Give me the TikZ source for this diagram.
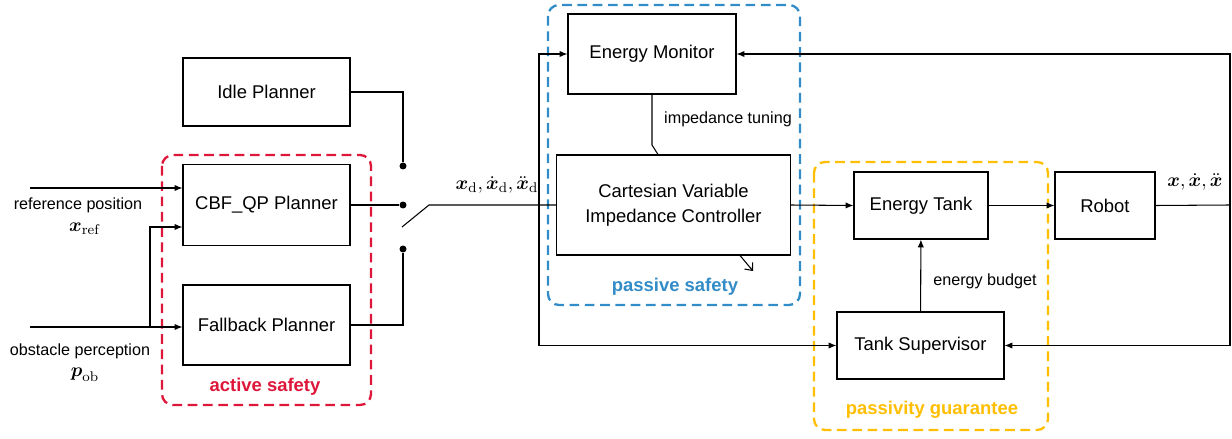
\documentclass[tikz,border=0pt]{standalone}
\usepackage{amsmath}
\usepackage{amssymb}
\usepackage[no-math]{fontspec}
\setmainfont{Liberation Sans}
\usepackage{tikz}
\usetikzlibrary{arrows.meta, positioning, calc}
\definecolor{activered}{RGB}{222,22,58}
\definecolor{passiveblue}{RGB}{50,140,200}
\definecolor{tankyellow}{RGB}{255,190,0}

\tikzset{
  block/.style={draw, line width=0.6pt, font=\fontsize{10.5}{12.5}\selectfont, align=center, inner sep=2pt},
  groupbox/.style={draw, line width=1.3pt, rounded corners=0.22cm, dash pattern=on 5.5pt off 3.2pt},
  grouplbl/.style={font=\fontsize{10.5}{12.5}\selectfont\bfseries},
  sig/.style={font=\fontsize{9.2}{11}\selectfont},
  state/.style={font=\fontsize{11}{13}\selectfont, inner sep=1pt},
  wire/.style={line width=0.6pt},
  dot/.style={circle, fill, inner sep=0pt, minimum size=0.14cm}
}

\begin{document}
\begin{tikzpicture}[x=0.02cm, y=-0.02cm, >={Latex[length=4.5pt,width=3.6pt]}]
\useasboundingbox (0,0) rectangle (1232,439);

% safety groups
\draw[groupbox, activered] (162,155) rectangle (371,405);
\draw[groupbox, passiveblue] (548,5) rectangle (800,305);
\draw[groupbox, tankyellow] (814,162) rectangle (1048,430);
\node[grouplbl, text=activered] (activelbl) at (265,387) {active safety};
\node[grouplbl, text=passiveblue] (passivelbl) at (675,287) {passive safety};
\node[grouplbl, text=tankyellow] (tanklbl) at (932,410) {passivity guarantee};

% planners
\node[block, minimum width=3.34cm, minimum height=1.36cm] (idle) at (266.5,92) {Idle Planner};
\node[block, minimum width=3.34cm, minimum height=1.62cm] (cbf) at (266.5,205) {CBF\_QP Planner};
\node[block, minimum width=3.34cm, minimum height=1.6cm] (fallback) at (266.5,325) {Fallback Planner};

% controller side
\node[block, minimum width=3.36cm, minimum height=1.6cm] (monitor) at (652,54) {Energy Monitor};
\node[block, minimum width=4.68cm, minimum height=2cm] (controller) at (673.5,205) {Cartesian Variable\\[2pt]Impedance Controller};
\node[block, minimum width=2.68cm, minimum height=1.34cm] (tank) at (921,205.5) {Energy Tank};
\node[block, minimum width=2cm, minimum height=1.34cm] (robot) at (1105,205.5) {Robot};
\node[block, minimum width=3.34cm, minimum height=1.34cm] (supervisor) at (920.5,345.5) {Tank Supervisor};

% switch
\node[dot] (s1) at (403,166) {};
\node[dot] (s2) at (403,205) {};
\node[dot] (s3) at (403,249) {};
\coordinate (lever) at (402,227);
\coordinate (sw) at (429,205);
\coordinate (split) at (539,205);
\coordinate (fb) at (1230,205);

% inputs
\coordinate (refin) at (30,188);
\coordinate (obsin) at (30,327);
\coordinate (obsbr) at (150,327);
\node[sig] (reflbl) at (78,205) {reference position};
\node[state] (refsym) at (85,229) {$\boldsymbol{x}_{\mathrm{ref}}$};
\node[sig] (obslbl) at (80,351) {obstacle perception};
\node[state] (obssym) at (85,375) {$\boldsymbol{p}_{\mathrm{ob}}$};

\draw[wire, ->] (refin) -- (refin -| cbf.west);
\draw[wire, ->] (obsin) -- (obsin -| fallback.west);
\draw[wire, ->] (obsbr) |- ([yshift=-0.44cm]cbf.west);

\draw[wire] (idle.east) -| (s1);
\draw[wire] (cbf.east) -- (s2);
\draw[wire] (fallback.east) -| (s3);
\draw[wire] (lever) -- (sw) -- (controller.west);
\node[state] (xdlbl) at (497,185) {$\boldsymbol{x}_{\mathrm{d}},\dot{\boldsymbol{x}}_{\mathrm{d}},\ddot{\boldsymbol{x}}_{\mathrm{d}}$};

\draw[wire, ->] (split) |- (monitor.west);
\draw[wire, ->] (split) |- (supervisor.west);

% impedance tuning
\coordinate (tunebend) at (652,145);
\draw[wire] (monitor.south) -- (tunebend) -- ([xshift=-0.31cm]controller.north);
\node[sig] (tunelbl) at (728,119) {impedance tuning};
\coordinate (ctrlout) at (753,271);
\draw[wire, -{Straight Barb[length=3.5pt,width=6pt]}] ([xshift=-1.02cm]controller.south east) -- (ctrlout);

\draw[wire, ->] (controller.east) -- (tank.west);
\draw[wire, ->] (tank) -- (robot);
\draw[wire, ->] (supervisor) -- (tank);
\node[sig] (budgetlbl) at (985,281) {energy budget};

% state feedback
\draw[wire] (robot.east) -- (fb);
\draw[wire, ->] (fb) |- (monitor.east);
\draw[wire, ->] (fb) |- (supervisor.east);
\node[state] (xlbl) at (1195,182) {$\boldsymbol{x},\dot{\boldsymbol{x}},\ddot{\boldsymbol{x}}$};
\end{tikzpicture}
\end{document}
